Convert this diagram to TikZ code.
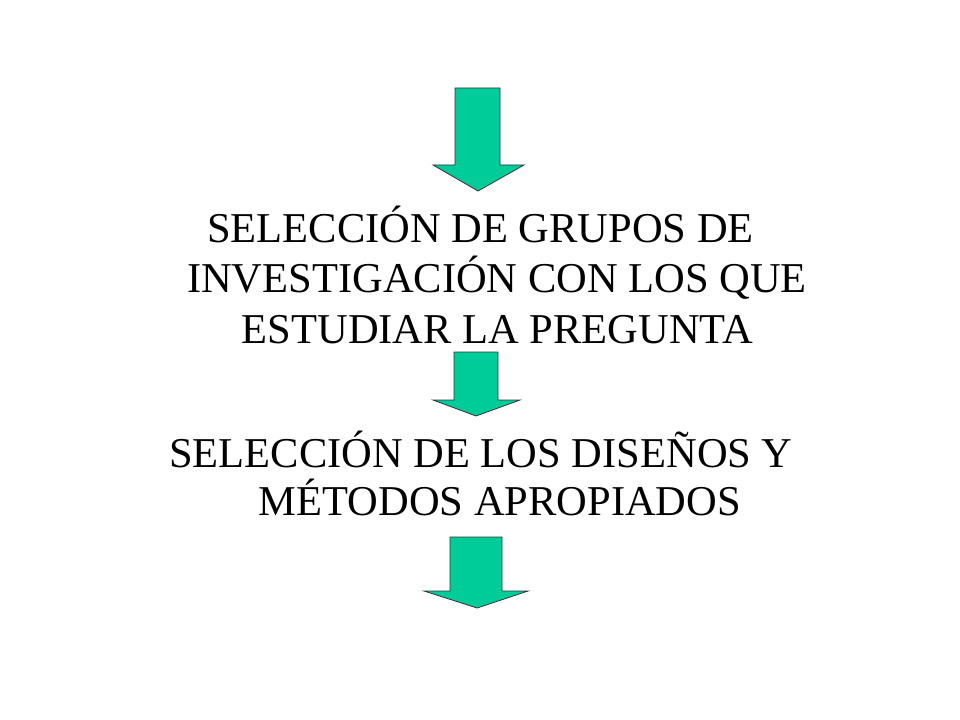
\documentclass[tikz,border=0pt]{standalone}
\usepackage{fontspec}
\setmainfont{Liberation Serif}
\definecolor{arrowgreen}{HTML}{00CC99}
\tikzset{
  blockarrow/.style={fill=arrowgreen, draw=black!80, line width=0.8bp, line join=miter},
  textline/.style={anchor=base, inner sep=0pt, font=\fontsize{42.5bp}{50bp}\selectfont}
}
\begin{document}
\begin{tikzpicture}[x=1bp,y=-1bp]
\useasboundingbox (0,0) rectangle (960,720);
% arrow 1
\draw[blockarrow] (455,88) -- (500,88) -- (500,165) -- (524,165) -- (478,191) -- (433,165) -- (455,165) -- cycle;
% arrow 2
\draw[blockarrow] (454,352) -- (498,352) -- (498,400) -- (520,400) -- (476,416) -- (433,400) -- (454,400) -- cycle;
% arrow 3
\draw[blockarrow] (450,537) -- (502,537) -- (502,591) -- (528,591) -- (477,608) -- (424,591) -- (450,591) -- cycle;
% text block 1
\node[textline] (t1a) at (480.5,242) {SELECCIÓN DE GRUPOS DE};
\node[textline] (t1b) at (497,292) {INVESTIGACIÓN CON LOS QUE};
\node[textline] (t1c) at (497.5,343) {ESTUDIAR LA PREGUNTA};
% text block 2
\node[textline] (t2a) at (481,467) {SELECCIÓN DE LOS DISEÑOS Y};
\node[textline] (t2b) at (500,515) {MÉTODOS APROPIADOS};
\end{tikzpicture}
\end{document}
